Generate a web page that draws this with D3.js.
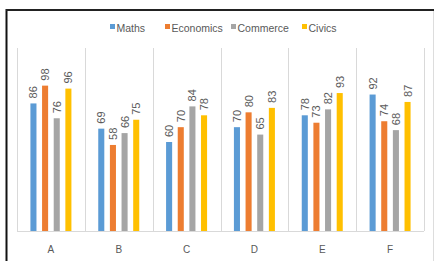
<!DOCTYPE html>
<html><head><meta charset="utf-8">
<script src="https://cdn.jsdelivr.net/npm/d3@7"></script>
<style>html,body{margin:0;padding:0;background:#fff;}svg{display:block;}</style>
</head><body>
<svg id="chart" width="434" height="261"></svg>
<script>
const categories = ["A","B","C","D","E","F"];
const seriesNames = ["Maths","Economics","Commerce","Civics"];
const maths     = [86,69,60,70,78,92];
const economics = [98,58,70,80,73,74];
const commerce  = [76,66,84,65,82,68];
const civics    = [96,75,78,83,93,87];
const colors = ["#5B9BD5","#ED7D31","#A5A5A5","#FFC000"];
const seriesValues = [maths, economics, commerce, civics];

const svg = d3.select("#chart");
const W = 434, H = 261;

// frame
svg.append("rect").attr("x",0).attr("y",0).attr("width",W).attr("height",H).attr("fill","#fff");
svg.append("line").attr("x1",6.5).attr("x2",6.5).attr("y1",9).attr("y2",H).attr("stroke","#111").attr("stroke-width",2);
svg.append("line").attr("x1",6).attr("x2",W).attr("y1",10).attr("y2",10).attr("stroke","#222").attr("stroke-width",2);
svg.append("line").attr("x1",433.5).attr("x2",433.5).attr("y1",11).attr("y2",H).attr("stroke","#ddd").attr("stroke-width",1);

const left = 17, right = 424, baseY = 231, topY = 53;
const x = d3.scaleBand().domain(categories).range([left,right]).paddingInner(0).paddingOuter(0);
const y = d3.scaleLinear().domain([0,120]).range([baseY, topY]);
const groupW = 41;
const xs = d3.scaleBand().domain(seriesNames).range([0, groupW]).paddingInner(0.48).paddingOuter(0);
const groupOffset = (x.bandwidth() - groupW) / 2;

// vertical gridlines at band boundaries
const bounds = categories.map(c => x(c)).concat([right]);
svg.selectAll("line.grid").data(bounds).enter().append("line")
  .attr("class","grid")
  .attr("x1", d => Math.round(d)+0.5).attr("x2", d => Math.round(d)+0.5)
  .attr("y1", 48).attr("y2", baseY)
  .attr("stroke","#d9d9d9").attr("stroke-width",1);

// baseline
svg.append("line").attr("x1",left).attr("x2",right).attr("y1",baseY+0.5).attr("y2",baseY+0.5)
  .attr("stroke","#d9d9d9").attr("stroke-width",1);

// bars
const data = [];
categories.forEach((c,i) => seriesNames.forEach((s,j) => data.push({c, s, j, v: seriesValues[j][i]})));

const g = svg.append("g");
g.selectAll("rect.bar").data(data).enter().append("rect")
  .attr("class","bar")
  .attr("x", d => x(d.c) + groupOffset + xs(d.s))
  .attr("y", d => y(d.v))
  .attr("width", xs.bandwidth())
  .attr("height", d => baseY - y(d.v))
  .attr("fill", d => colors[d.j]);

// value labels (rotated)
g.selectAll("text.val").data(data).enter().append("text")
  .attr("class","val")
  .attr("transform", d => `translate(${x(d.c) + groupOffset + xs(d.s) + xs.bandwidth()/2 + 4},${y(d.v) - 5}) rotate(-90)`)
  .attr("text-anchor","start")
  .attr("font-family","'Liberation Sans', Arial, sans-serif")
  .attr("font-size", 11)
  .attr("fill","#595959")
  .text(d => d.v);

// category labels
svg.selectAll("text.cat").data(categories).enter().append("text")
  .attr("class","cat")
  .attr("x", d => x(d) + x.bandwidth()/2)
  .attr("y", 253)
  .attr("text-anchor","middle")
  .attr("font-family","'Liberation Sans', Arial, sans-serif")
  .attr("font-size", 10)
  .attr("fill","#595959")
  .text(d => d);

// legend
const legendX = [110, 165, 231, 302];
const leg = svg.append("g");
seriesNames.forEach((s,j) => {
  leg.append("rect").attr("x", legendX[j]).attr("y", 24).attr("width",5).attr("height",5).attr("fill", colors[j]);
  leg.append("text").attr("x", legendX[j] + 6.5).attr("y", 32)
    .attr("font-family","'Liberation Sans', Arial, sans-serif")
    .attr("font-size", 10.5)
    .attr("fill","#595959")
    .text(s);
});
</script>
</body></html>
